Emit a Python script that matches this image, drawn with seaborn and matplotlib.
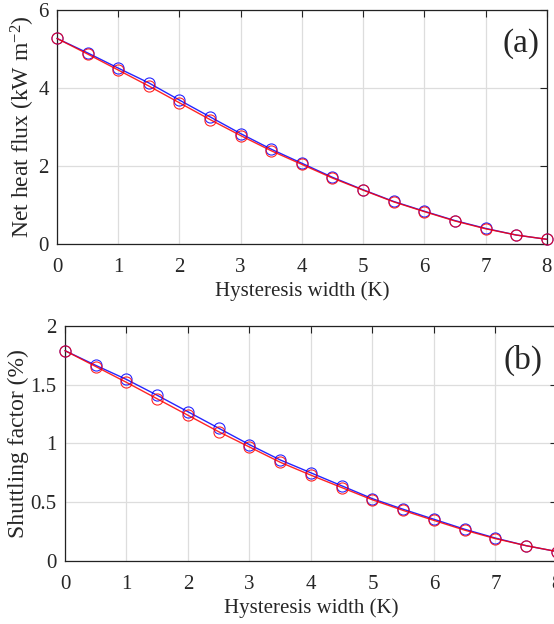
import matplotlib
matplotlib.use("Agg")
import matplotlib.pyplot as plt
import seaborn as sns
import pandas as pd

# Hysteresis width (K)
hysteresis = [0, 0.5, 1, 1.5, 2, 2.5, 3, 3.5, 4, 4.5, 5, 5.5, 6, 6.5, 7, 7.5, 8]

# Net heat flux (kW m^-2)
flux_blue = [5.27, 4.90, 4.51, 4.13, 3.69, 3.26, 2.83, 2.43, 2.07, 1.71, 1.39, 1.09, 0.84, 0.60, 0.40, 0.23, 0.12]
flux_red = [5.27, 4.87, 4.46, 4.05, 3.62, 3.19, 2.78, 2.39, 2.04, 1.69, 1.38, 1.08, 0.83, 0.59, 0.39, 0.23, 0.12]

# Shuttling factor (%)
shut_blue = [1.79, 1.665, 1.545, 1.41, 1.27, 1.13, 0.99, 0.86, 0.75, 0.64, 0.53, 0.44, 0.355, 0.27, 0.195, 0.13, 0.08]
shut_red = [1.79, 1.655, 1.52, 1.38, 1.24, 1.10, 0.97, 0.84, 0.73, 0.625, 0.52, 0.43, 0.345, 0.262, 0.19, 0.13, 0.08]

sns.set_theme(style="whitegrid")
plt.rcParams["font.family"] = ["Liberation Serif", "DejaVu Serif"]
plt.rcParams["mathtext.fontset"] = "custom"
plt.rcParams["mathtext.rm"] = "Liberation Serif"
plt.rcParams["mathtext.it"] = "Liberation Serif:italic"

fig = plt.figure(figsize=(5.54, 6.24), dpi=100)
ax1 = fig.add_axes([0.1029, 0.609, 0.884, 0.375])
ax2 = fig.add_axes([0.1173, 0.101, 0.888, 0.3766])


def draw(ax, yb, yr):
    df = pd.DataFrame({"x": hysteresis, "blue": yb, "red": yr})
    for col, c in (("blue", "#0000ff"), ("red", "#ff0000")):
        sns.lineplot(data=df, x="x", y=col, ax=ax, color=c, lw=1.0,
                     marker="o", markersize=8, markerfacecolor="none",
                     markeredgecolor=c, markeredgewidth=0.8, alpha=0.85,
                     clip_on=False, zorder=3)


draw(ax1, flux_blue, flux_red)
draw(ax2, shut_blue, shut_red)

ax1.set_xlim(0, 8)
ax1.set_ylim(0, 6)
ax1.set_xticks(range(0, 9))
ax1.set_yticks([0, 2, 4, 6])
ax1.set_ylabel(r"Net heat flux (kW m$^{\mathregular{-2}}$)", fontsize=17, labelpad=1)
ax1.text(0.985, 0.855, "(a)", transform=ax1.transAxes, ha="right", va="center", fontsize=24)

ax2.set_xlim(0, 8)
ax2.set_ylim(0, 2)
ax2.set_xticks(range(0, 9))
ax2.set_yticks([0, 0.5, 1, 1.5, 2])
ax2.set_yticklabels(["0", "0.5", "1", "1.5", "2"])
ax2.set_ylabel("Shuttling factor (%)", fontsize=17, labelpad=1)
ax2.text(0.97, 0.855, "(b)", transform=ax2.transAxes, ha="right", va="center", fontsize=24)

for ax in (ax1, ax2):
    ax.set_xlabel("Hysteresis width (K)", fontsize=15, labelpad=3)
    ax.set_facecolor("white")
    ax.grid(True, color="#dddddd", lw=0.9)
    ax.tick_params(axis="both", which="both", direction="in", length=5, width=0.8,
                   top=True, right=True, labelsize=15, color="#222222")
    ax.tick_params(axis="x", pad=10)
    ax.tick_params(axis="y", pad=6)
    for s in ax.spines.values():
        s.set_color("#222222")
        s.set_linewidth(0.9)

fig.savefig("out.png", dpi=100, facecolor="white")
